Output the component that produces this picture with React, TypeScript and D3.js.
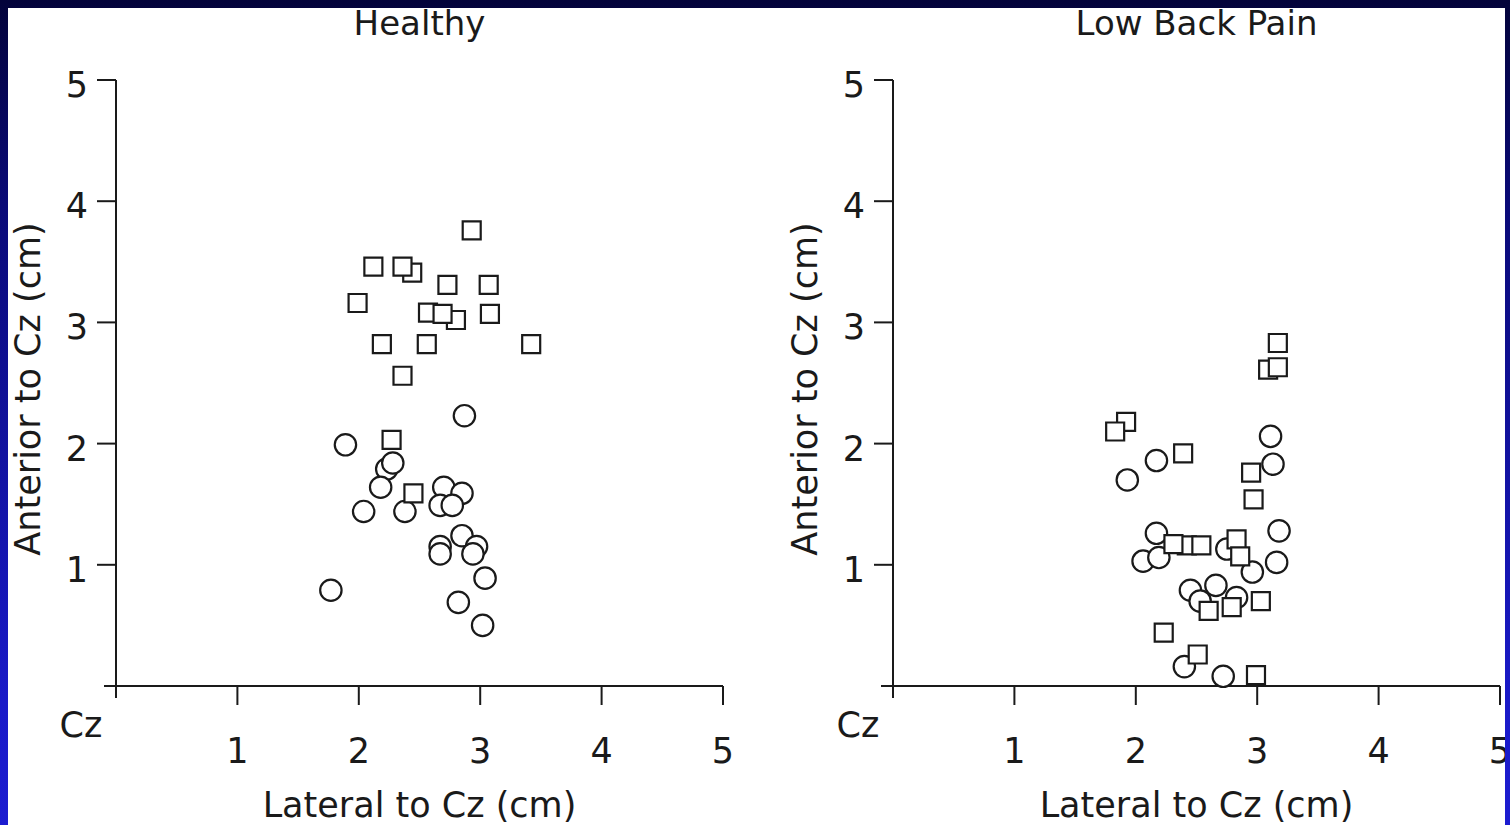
import React from 'react';
import * as d3 from 'd3';

// Healthy group: [lateral, anterior] in cm
const healthyCircles: [number, number][] = [
  [2.87, 2.23], [1.89, 1.99], [2.23, 1.79], [2.28, 1.84], [2.18, 1.64],
  [2.04, 1.44], [2.38, 1.44], [2.7, 1.64], [2.85, 1.59], [2.67, 1.49],
  [2.77, 1.49], [2.85, 1.24], [2.97, 1.15], [2.94, 1.09], [2.67, 1.15],
  [2.67, 1.09], [3.04, 0.89], [2.82, 0.69], [3.02, 0.5], [1.77, 0.79],
];
const healthySquares: [number, number][] = [
  [2.93, 3.76], [2.12, 3.46], [2.44, 3.41], [2.36, 3.46], [2.73, 3.31],
  [3.07, 3.31], [1.99, 3.16], [2.57, 3.08], [2.8, 3.02], [2.69, 3.07],
  [3.08, 3.07], [2.19, 2.82], [2.56, 2.82], [3.42, 2.82], [2.36, 2.56],
  [2.27, 2.03], [2.45, 1.59],
];

// Low back pain group
const lbpCircles: [number, number][] = [
  [2.17, 1.86], [1.93, 1.7], [3.11, 2.06], [3.13, 1.83], [2.17, 1.26],
  [2.06, 1.03], [2.19, 1.06], [3.18, 1.28], [3.16, 1.02], [2.75, 1.13],
  [2.96, 0.94], [2.45, 0.79], [2.66, 0.83], [2.53, 0.7], [2.83, 0.73],
  [2.4, 0.16], [2.72, 0.08],
];
const lbpSquares: [number, number][] = [
  [3.17, 2.83], [3.09, 2.61], [3.17, 2.63], [1.92, 2.18], [1.83, 2.1],
  [2.39, 1.92], [2.95, 1.76], [2.97, 1.54], [2.42, 1.16], [2.31, 1.17],
  [2.54, 1.16], [2.83, 1.21], [2.86, 1.07], [2.6, 0.62], [2.79, 0.65],
  [3.03, 0.7], [2.23, 0.44], [2.51, 0.26], [2.99, 0.09],
];

const axisTicks = [1, 2, 3, 4, 5];
const panelTitles = ['Healthy', 'Low Back Pain'];
const xTitle = 'Lateral to Cz (cm)';
const yTitle = 'Anterior to Cz (cm)';

const W = 1510;
const H = 825;
const font = "'DejaVu Sans', sans-serif";
const ink = '#1a1a1a';

const circlePath = d3.symbol(d3.symbolCircle, Math.PI * 10.7 * 10.7)()!;
const squarePath = d3.symbol(d3.symbolSquare, 18 * 18)()!;

type PanelProps = {
  left: number;
  title: string;
  circles: [number, number][];
  squares: [number, number][];
};

const Panel = ({ left, title, circles, squares }: PanelProps) => {
  const x = d3.scaleLinear().domain([0, 5]).range([left, left + 607]);
  const y = d3.scaleLinear().domain([0, 5]).range([686, 80]);
  const x0 = x(0);
  const y0 = y(0);

  return (
    <g>
      <text x={(x(0) + x(5)) / 2} y={35} textAnchor="middle" fontSize={34} fontFamily={font} fill={ink}>
        {title}
      </text>

      {/* axes */}
      <g stroke={ink} strokeWidth={2}>
        <line x1={x0 - 12} x2={x(5)} y1={y0} y2={y0} />
        <line x1={x0} x2={x0} y1={y(5)} y2={y0 + 12} />
        {axisTicks.map((t) => (
          <line key={'xt' + t} x1={x(t)} x2={x(t)} y1={y0} y2={y0 + 19} />
        ))}
        {axisTicks.map((t) => (
          <line key={'yt' + t} x1={x0 - 19} x2={x0} y1={y(t)} y2={y(t)} />
        ))}
      </g>
      <g fontFamily={font} fontSize={35} fill={ink}>
        {axisTicks.map((t) => (
          <text key={'xl' + t} x={x(t)} y={763} textAnchor="middle">
            {t}
          </text>
        ))}
        {axisTicks.map((t) => (
          <text key={'yl' + t} x={x0 - 28} y={y(t) + 17} textAnchor="end">
            {t}
          </text>
        ))}
        <text x={x0 - 35} y={737} textAnchor="middle">
          Cz
        </text>
        <text x={(x(0) + x(5)) / 2} y={817} textAnchor="middle">
          {xTitle}
        </text>
        <text transform={`translate(${x0 - 76},${389}) rotate(-90)`} textAnchor="middle">
          {yTitle}
        </text>
      </g>

      {/* points: circles first, squares drawn over them */}
      <g fill="#fff" stroke={ink} strokeWidth={2.2}>
        {circles.map((d, i) => (
          <path key={'c' + i} d={circlePath} transform={`translate(${x(d[0])},${y(d[1])})`} />
        ))}
        {squares.map((d, i) => (
          <path key={'s' + i} d={squarePath} transform={`translate(${x(d[0])},${y(d[1])})`} />
        ))}
      </g>
    </g>
  );
};

export default function App() {
  return (
    <svg width={W} height={H} style={{ position: 'absolute', left: 0, top: 0, display: 'block' }}>
      <defs>
        <linearGradient id="bg" x1="0" y1="0" x2="0" y2="1">
          <stop offset="0" stopColor="#03033a" />
          <stop offset="0.25" stopColor="#0a0a78" />
          <stop offset="0.85" stopColor="#1a1ac8" />
          <stop offset="1" stopColor="#1c1cd0" />
        </linearGradient>
        <clipPath id="page">
          <rect x={8} y={8} width={1497} height={H - 8} />
        </clipPath>
      </defs>
      <rect width={W} height={H} fill="url(#bg)" />
      <rect x={8} y={8} width={1497} height={H - 8} fill="#fff" />
      <g clipPath="url(#page)">
        <Panel left={116} title={panelTitles[0]} circles={healthyCircles} squares={healthySquares} />
        <Panel left={893} title={panelTitles[1]} circles={lbpCircles} squares={lbpSquares} />
      </g>
    </svg>
  );
}
